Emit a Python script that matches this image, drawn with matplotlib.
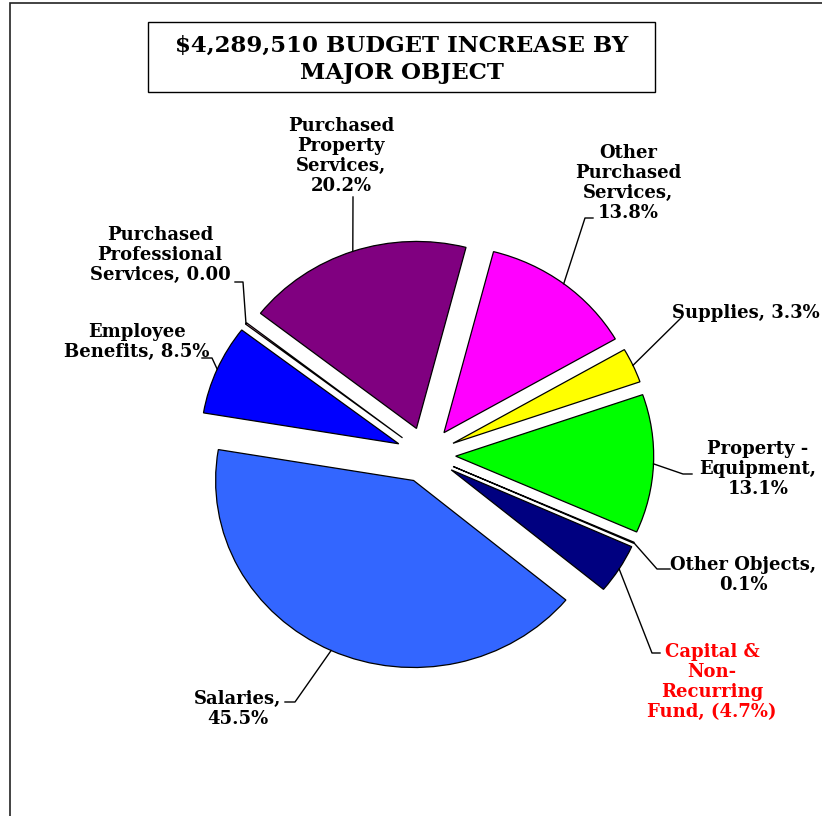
import numpy as np
import matplotlib
matplotlib.use('Agg')
from matplotlib import pyplot as plt
from matplotlib.patches import Rectangle

# slices, clockwise from the top
categories = ['Other Purchased Services', 'Supplies', 'Property - Equipment',
              'Other Objects', 'Capital & Non-Recurring Fund', 'Salaries',
              'Employee Benefits', 'Purchased Professional Services',
              'Purchased Property Services']
shares = [13.8, 3.3, 13.1, 0.1, 4.7, 45.5, 8.5, 0.15, 20.2]   # capital fund is negative, drawn by size
labels = ['Other\nPurchased\nServices,\n13.8%', 'Supplies, 3.3%',
          'Property -\nEquipment,\n13.1%', 'Other Objects,\n0.1%',
          'Capital &\nNon-\nRecurring\nFund, (4.7%)', 'Salaries,\n45.5%',
          'Employee\nBenefits, 8.5%', 'Purchased\nProfessional\nServices, 0.00',
          'Purchased\nProperty\nServices,\n20.2%']
colors = ['#FF00FF', '#FFFF00', '#00FF00', '#FFFFFF', '#000080',
          '#3366FF', '#0000FF', '#FF99CC', '#800080']
label_colors = ['black'] * 4 + ['red'] + ['black'] * 4

W, H = 822, 816
cx, cy, rx, ry = 426, 455, 198, 187

def P(x, y):
    # picture pixels -> axes data
    return (x - cx) / rx, (cy - y) / ry

# label centre and leader line start / elbow (pixels)
label_pos = [(628, 183), (746, 313), (758, 469), (743, 575), (712, 682),
             (238, 709), (137, 342), (160, 255), (341, 156)]
leader = [[(593, 218), (585, 218)], [(682, 317)], [(692, 474), (683, 474)],
          [(670, 569), (657, 569)], [(660, 653), (652, 653)],
          [(285, 702), (295, 702)], [(202, 358), (212, 358)],
          [(235, 282), (243, 282)], [(353, 197)]]

fig = plt.figure(figsize=(W / 100, H / 100), dpi=100)
ax = fig.add_axes([0, 0, 1, 1])

wedges, _ = ax.pie(shares, explode=[0.15] * len(shares), colors=colors,
                   startangle=75.5, counterclock=False, radius=1,
                   wedgeprops=dict(edgecolor='black', linewidth=0.9))
ax.set_aspect('auto')
ax.set_xlim(-cx / rx, (W - cx) / rx)
ax.set_ylim(-(H - cy) / ry, cy / ry)
ax.axis('off')

for w, lab, pos, pts, lc in zip(wedges, labels, label_pos, leader, label_colors):
    m = np.radians((w.theta1 + w.theta2) / 2)
    ax0 = w.center[0] + w.r * np.cos(m)
    ay0 = w.center[1] + w.r * np.sin(m)
    xs = [P(*p)[0] for p in pts] + [ax0]
    ys = [P(*p)[1] for p in pts] + [ay0]
    ax.plot(xs, ys, color='black', lw=1.0)
    ax.text(*P(*pos), lab, ha='center', va='center', color=lc,
            fontsize=13, fontweight='bold', family='DejaVu Serif',
            linespacing=1.15)

# outer frame (runs off the right and bottom edges) and title box
fig.patches.append(Rectangle((10 / W, -0.2), 1.2, 1.2 - 3 / H, transform=fig.transFigure,
                             fill=False, edgecolor='#222222', lw=1.2))
fig.patches.append(Rectangle((148 / W, 1 - 92 / H), 507 / W, 70 / H,
                             transform=fig.transFigure, fill=False,
                             edgecolor='black', lw=1.0))
fig.text(401.5 / W, 1 - 59 / H, '$4,289,510 BUDGET INCREASE BY\nMAJOR OBJECT',
         ha='center', va='center', fontsize=16.5, fontweight='bold',
         family='DejaVu Serif', linespacing=1.3)

fig.savefig('out.png', dpi=100)
